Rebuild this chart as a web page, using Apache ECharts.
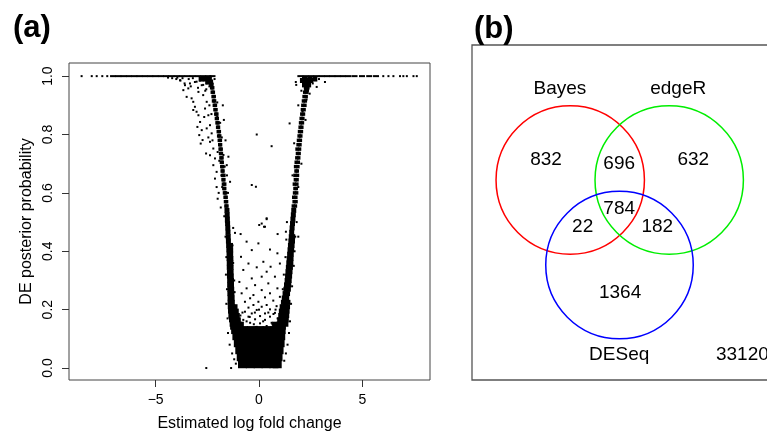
<!DOCTYPE html>
<html><head><meta charset="utf-8">
<script src="https://cdn.jsdelivr.net/npm/echarts@6/dist/echarts.min.js"></script>
<style>html,body{margin:0;padding:0;background:#fff}#c{width:767px;height:435px}</style>
</head><body><div id="c"></div>
<script>
// ---------- Panel (a) data ----------
const xTicks = [-5, 0, 5];
const yTicks = [0, 0.2, 0.4, 0.6, 0.8, 1.0];
const xLabel = 'Estimated log fold change';
const yLabel = 'DE posterior probability';

// dense run of points at probability 1.0 (x values)
const topLineX = [-7.06,-6.80,-6.55,-6.29,-6.03,-5.78,-5.52,-5.26,-5.01,-4.75,-4.50,-4.24,-3.98,-3.73,-3.47,-3.22,-2.96,-2.70,-2.45,-2.25,
  2.00,2.26,2.52,2.78,3.03,3.29,3.55,3.80,4.06,4.32,4.62,4.98,5.33,5.66];
// isolated points at probability 1.0 (x values)
const topDotsX = [-8.58,-8.09,-7.85,-7.58,-7.34,6.01,6.26,6.50,6.82,6.98,7.15,7.47,7.63];

// sparse individual genes [logFC, prob]
const wingPoints = [[-3.82,0.986],[-3.58,0.969],[-3.66,0.952],[-3.42,0.958],[-3.26,0.924],[-3.18,0.912],[-3.50,0.929],[-3.10,0.895],
  [-3.18,0.884],[-3.02,0.878],[-2.93,0.866],[-2.85,0.843],[-2.98,0.826],[-2.77,0.815],[-2.89,0.798],[-2.73,0.781],[-2.82,0.769],
  [-2.56,0.735],[-2.70,0.935],[-2.53,0.912],[-2.61,0.889],[-2.45,0.866],[-2.37,0.832],[-2.53,0.821],[-2.29,0.804],[-2.37,0.775],
  [-2.21,0.752],[-2.37,0.729],[-2.13,0.718],[-2.21,0.695],[-2.05,0.672],[-2.13,0.649],[-1.48,0.724],[-1.56,0.695],[-1.40,0.638],
  [-2.93,0.946],[-2.77,0.969],[-3.02,0.981],[-2.53,0.975],[-3.34,0.975],[-2.65,0.86],[-2.45,0.79],[-2.60,0.95],[-2.40,0.90],
  [-2.30,0.87],[-2.25,0.78],[-2.00,0.74],[-2.05,0.62],[-1.95,0.60],[-2.00,0.58],[-1.85,0.55],[-1.70,0.85],[-1.75,0.90],
  [-1.62,0.78],[-1.55,0.66],[-1.50,0.60],[-1.88,0.84],[-1.80,0.79],[-1.72,0.73],[-1.66,0.69],[-2.02,0.86],[-1.92,0.71],
  [-1.82,0.66],[-1.78,0.62],[-2.14,0.93],[-2.02,0.91],
  [-4.2,0.993],[-4.0,0.99],[-3.8,0.985],[-3.7,0.993],[-3.6,0.975],[-3.4,0.99],[-3.3,0.965],[-3.2,0.993],[-3.1,0.98],[-2.95,0.96],
  [-2.85,0.985],[-2.7,0.97],[-2.55,0.955],[-2.5,0.985],[-2.4,0.965],[-2.25,0.975],[-2.15,0.99],[-4.4,0.995],[-3.95,0.995],
  [2.79,0.963],[3.19,0.98],[1.80,0.97],[1.78,0.98],[2.90,0.99],[2.05,0.95],[2.60,0.975],[2.45,0.94],[2.30,0.92],[1.90,0.90],
  [2.25,0.85],[1.90,0.45],[1.85,0.75],[2.05,0.70],[1.62,0.66],[1.70,0.77],[1.90,0.62],[2.10,0.88],
  [-0.11,0.80],[0.61,0.76],[-0.35,0.627],[-0.15,0.621],[0.37,0.51],[1.48,0.838],[0.13,0.495],[0.29,0.484],
  [-2.55,0],[-1.35,0]];
const centerPoints = [[-1.16,0.463],[-0.89,0.459],[0.01,0.49],[0.24,0.484],[0.37,0.513],[0.90,0.459],[1.30,0.467],[-0.60,0.433],
  [-0.03,0.427],[-0.35,0.404],[0.53,0.406],[0.89,0.393],[-0.87,0.381],[0.21,0.364],[-0.51,0.358],[-0.11,0.345],[0.56,0.347],
  [1.01,0.358],[-0.76,0.336],[0.37,0.33],[0.13,0.313],[-0.35,0.307],[0.77,0.313],[-0.95,0.295],[-0.19,0.284],[0.45,0.29],
  [-0.60,0.273],[0.13,0.267],[0.89,0.273],[-0.84,0.256],[-0.27,0.25],[0.53,0.256],[-0.43,0.239],[0.29,0.242],[1.01,0.244],
  [-0.68,0.227],[-0.03,0.227],[0.69,0.231],[-0.27,0.216],[0.37,0.216],[-0.51,0.207],[0.13,0.21],[0.85,0.212],[-0.11,0.199],
  [0.53,0.201],[-0.68,0.193],[-0.35,0.187],[0.29,0.187],[0.77,0.189],[0.05,0.178],[-0.51,0.176],[0.53,0.176],[-0.19,0.167],
  [0.29,0.165],[-0.76,0.165],[1.01,0.17],[-0.43,0.155],[0.05,0.153],[0.61,0.155],[-0.11,0.141],[0.37,0.144],
  [-0.90,0.18],[-0.80,0.19],[0.80,0.20],[0.90,0.17],[-0.60,0.16],[0.65,0.15],[-0.25,0.15],[0.20,0.16],[-0.45,0.175],
  [0.45,0.19],[0.00,0.20],[-0.20,0.19],[0.70,0.185],
  [-1.62,0.45],[-1.58,0.38],[-1.60,0.32],[-1.55,0.27],[-1.58,0.22],[-1.52,0.17],[-1.50,0.12],[-1.42,0.08],[-1.30,0.05],
  [-1.20,0.03],[-1.12,0.015],[-1.60,0.50],[-1.68,0.52],[-1.25,0.48],[-1.28,0.42],[-1.25,0.36],[-1.20,0.30],[-1.18,0.26],
  [1.75,0.45],[1.72,0.40],[1.68,0.35],[1.60,0.28],[1.55,0.22],[1.50,0.16],[1.45,0.12],[1.38,0.08],[1.30,0.05],[1.22,0.025],
  [1.82,0.50],[1.35,0.50],[1.32,0.44],[1.28,0.38],[1.20,0.32],[1.15,0.27]];

// dense bands of genes: [prob, logFC, logFC, ...]
const bandRows = [
  [0.150,-1.30,-1.12,-0.96,0.96,1.14,1.30],[0.165,-1.33,-1.15,-1.00,1.00,1.17,1.32],[0.180,-1.36,-1.20,-1.05,1.05,1.20,1.34],
  [0.195,-1.38,-1.24,-1.10,1.08,1.22,1.36],[0.210,-1.39,-1.27,-1.16,1.12,1.25,1.38],[0.225,-1.40,-1.29,1.18,1.30,1.40],
  [0.240,-1.40,-1.30,1.22,1.34],[0.255,-1.41,-1.31,1.26,1.38],[0.270,-1.41,-1.32,1.30,1.42],[0.285,-1.42,-1.33,1.33,1.44],
  [0.300,-1.42,-1.33,1.36,1.46],[0.315,-1.43,-1.34,1.38,1.48],[0.330,-1.43,-1.35,1.40,1.50],[0.345,-1.44,-1.35,1.42,1.52],
  [0.360,-1.44,-1.36,1.44,1.54],[0.375,-1.45,-1.36,1.46,1.55],[0.390,-1.45,-1.37,1.48,1.56],[0.405,-1.46,-1.37,1.50,1.58],
  [0.420,-1.47,-1.38,1.52,1.60],[0.435,-1.48,1.54,1.62],[0.450,-1.49,1.56,1.63],[0.465,-1.50,1.58],[0.480,-1.51,1.60],
  [0.495,-1.52,1.62],[0.510,-1.53,1.64],[0.525,-1.54,1.66],[0.540,-1.55,1.68],
  [0.98,-2.34,-2.48],[0.99,-2.40,-2.60,-2.80,2.20,2.45,2.70],
  [0.985,2.10,2.30,2.50],[0.97,2.20,2.40],[0.955,2.30]];
// thinner, speckled bands above 0.55: [prob, logFC, logFC, ...]
const spineRows = [
  [0.555,-1.55,-1.60,1.66,1.76],[0.57,-1.62,-1.57,1.70,1.79],[0.585,-1.64,-1.59,1.68,1.78],[0.60,-1.67,-1.62,1.72,1.82],
  [0.615,-1.66,-1.70,1.74,1.80],[0.63,-1.72,-1.66,1.71,1.83],[0.645,-1.70,-1.74,1.76,1.84],[0.66,-1.76,-1.70,1.74,1.86],
  [0.675,-1.74,-1.78,1.79,1.85],[0.69,-1.80,-1.75,1.77,1.88],[0.705,-1.78,-1.82,1.80,1.90],[0.72,-1.84,-1.79,1.83,1.92],
  [0.735,-1.82,-1.86,1.86,1.94],[0.75,-1.88,-1.83,1.84,1.96],[0.765,-1.86,-1.90,1.89,1.98],[0.78,-1.92,-1.87,1.91,2.00],
  [0.795,-1.90,-1.95,1.94,2.02],[0.81,-1.97,-1.92,1.96,2.05],[0.825,-1.96,-2.00,1.99,2.07],[0.84,-2.03,-1.98,2.01,2.10],
  [0.855,-2.02,-2.06,2.04,2.12],[0.87,-2.09,-2.04,2.07,2.15],[0.885,-2.08,-2.13,2.10,2.18],[0.90,-2.16,-2.11,2.12,2.22],
  [0.915,-2.15,-2.20,2.15,2.24],[0.93,-2.22,-2.17,2.18,2.28],[0.945,-2.21,-2.26,2.21,2.32],[0.96,-2.29,-2.24,2.25,2.36],
  [0.97,-2.28,-2.33]];
// solid core of non-DE genes: [prob, logFC, ...]
const coreRows = [
  [0.013,-0.80,-0.42,-0.04,0.34,0.72,0.88],[0.037,-0.86,-0.48,-0.10,0.28,0.66,0.92],[0.061,-0.93,-0.55,-0.17,0.21,0.59,0.97],
  [0.085,-1.00,-0.62,-0.24,0.14,0.52,0.90,1.02],[0.109,-1.07,-0.69,-0.31,0.07,0.45,0.83,1.05],
  [0.130,-1.13,-0.75,-0.37,0.01,0.39,0.77,1.07],[0.145,-1.18,-0.95,0.85,1.08]];

// ---------- Panel (b) data (unit square of the visible panel) ----------
const vennSets = ['Bayes', 'edgeR', 'DESeq'];
const vennColors = ['#ff0000', '#00ee00', '#0000ff'];
const vennCircles = [[0.333, 0.597, 0.2515], [0.6685, 0.597, 0.2515], [0.500, 0.343, 0.250]]; // cx, cy, r
const vennSetLabelPos = [[0.298, 0.869], [0.699, 0.869], [0.499, 0.0746]];
const vennCounts = ['832', '696', '632', '784', '22', '182', '1364', '33120'];
const vennCountPos = [[0.251,0.657],[0.499,0.645],[0.750,0.657],[0.499,0.511],[0.375,0.458],[0.628,0.458],[0.502,0.259],[0.827,0.0746]];
const vennFrame = [[0, 0], [1.146, 1]];

// ---------- build ----------
const rowsToPts = rows => rows.flatMap(r => r.slice(1).map(x => [x, r[0]]));
const FONT = "'Liberation Sans', Arial, Helvetica, sans-serif";
const scat = (data, size) => ({type: 'scatter', xAxisIndex: 0, yAxisIndex: 0, data, symbol: 'rect', symbolSize: size,
  itemStyle: {color: '#000', opacity: 1}, silent: true, animation: false, large: false});

const textItems = vennSets.map((s, i) => [vennSetLabelPos[i][0], vennSetLabelPos[i][1], s, 'center'])
  .concat(vennCounts.map((c, i) => [vennCountPos[i][0], vennCountPos[i][1], c, i === 7 ? 'left' : 'center']));

const chart = echarts.init(document.getElementById('c'), null, {renderer: 'canvas'});
chart.setOption({
  animation: false,
  backgroundColor: '#fff',
  title: [
    {text: '(a)', left: 8, top: 8, textStyle: {fontSize: 31, fontWeight: 'bold', fontFamily: FONT, color: '#000'}},
    {text: '(b)', left: 469, top: 9, textStyle: {fontSize: 31, fontWeight: 'bold', fontFamily: FONT, color: '#000'}}
  ],
  grid: [
    {left: 69, top: 63, width: 361, height: 317, show: true, borderColor: '#444', borderWidth: 1, backgroundColor: 'transparent',
      containLabel: false, outerBoundsMode: 'none'},
    {left: 472, top: 45, width: 295, height: 335, show: false, containLabel: false, outerBoundsMode: 'none'}
  ],
  xAxis: [
    {type: 'value', gridIndex: 0, min: -9.19, max: 8.27, name: xLabel, nameLocation: 'middle', nameGap: 36,
      nameTextStyle: {fontSize: 16, fontFamily: FONT, color: '#000'},
      axisLine: {show: false, onZero: false}, splitLine: {show: false},
      axisTick: {show: true, length: 7, customValues: xTicks, lineStyle: {color: '#333'}},
      axisLabel: {customValues: xTicks, fontSize: 14, fontFamily: FONT, color: '#000', margin: 13,
        formatter: v => (v < 0 ? '\u2212' + Math.abs(v) : String(v))}},
    {type: 'value', gridIndex: 1, min: 0, max: 1, show: false}
  ],
  yAxis: [
    {type: 'value', gridIndex: 0, min: -0.041, max: 1.045, name: yLabel, nameLocation: 'middle', nameGap: 34,
      nameTextStyle: {fontSize: 16, fontFamily: FONT, color: '#000'},
      axisLine: {show: false, onZero: false}, splitLine: {show: false},
      axisTick: {show: true, length: 7, customValues: yTicks, lineStyle: {color: '#333'}},
      axisLabel: {customValues: yTicks, rotate: 90, fontSize: 14, fontFamily: FONT, color: '#000', margin: 14,
        formatter: v => v.toFixed(1)}},
    {type: 'value', gridIndex: 1, min: 0, max: 1, show: false}
  ],
  series: [
    scat(rowsToPts(coreRows), [9, 8]),
    scat(rowsToPts(bandRows), 5),
    scat(rowsToPts(spineRows), 3.5),
    scat(topLineX.map(x => [x, 1]), [6, 2]),
    scat(topDotsX.map(x => [x, 1]).concat(wingPoints, centerPoints), 2),
    {type: 'custom', xAxisIndex: 1, yAxisIndex: 1, silent: true, animation: false, clip: false, data: [vennFrame[0].concat(vennFrame[1])],
      renderItem: (params, api) => {
        const a = api.coord([api.value(0), api.value(1)]);
        const b = api.coord([api.value(2), api.value(3)]);
        return {type: 'rect', shape: {x: a[0], y: b[1], width: b[0] - a[0], height: a[1] - b[1]},
          style: {fill: 'none', stroke: '#555', lineWidth: 1.3}};
      }},
    {type: 'custom', xAxisIndex: 1, yAxisIndex: 1, silent: true, animation: false, clip: false, data: vennCircles,
      renderItem: (params, api) => {
        const c = api.coord([api.value(0), api.value(1)]);
        const r = api.size([api.value(2), 0])[0];
        return {type: 'circle', shape: {cx: c[0], cy: c[1], r: r},
          style: {fill: 'none', stroke: vennColors[params.dataIndex], lineWidth: 1.5}};
      }},
    {type: 'custom', xAxisIndex: 1, yAxisIndex: 1, silent: true, animation: false, clip: false, data: textItems,
      renderItem: (params, api) => {
        const it = textItems[params.dataIndex];
        const c = api.coord([it[0], it[1]]);
        return {type: 'text', x: c[0], y: c[1],
          style: {text: it[2], fontSize: 19, fontFamily: FONT, fill: '#000', align: it[3], verticalAlign: 'middle'}};
      }}
  ]
});
</script></body></html>
